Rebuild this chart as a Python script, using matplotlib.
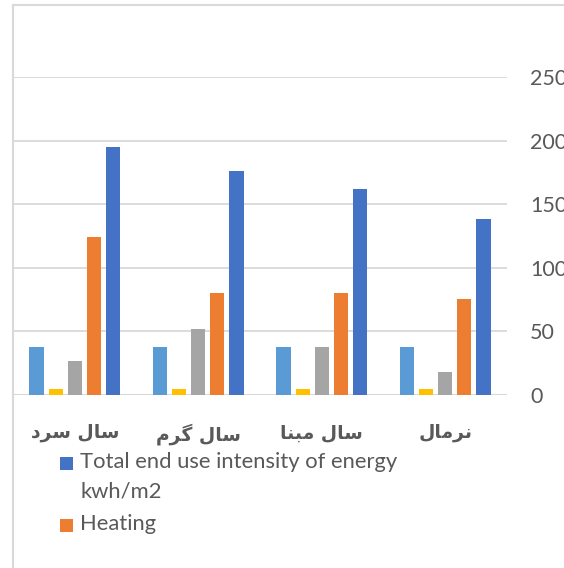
import matplotlib.pyplot as plt
import numpy as np
from matplotlib.lines import Line2D
from matplotlib.patches import Rectangle

# Persian category labels, left to right as laid out on the axis
categories = ['سال سرد', 'سال گرم', 'سال مبنا', 'نرمال']

# bar series, in drawing order left to right within each group
series_lightblue = [38, 38, 38, 38]
series_yellow = [4.5, 4.5, 4.5, 4.5]
series_gray = [26.5, 52, 38, 18]
heating = [124.5, 80, 80, 75.5]
total_eui = [195, 176, 162, 138]

y_ticks = [0, 50, 100, 150, 200, 250]

legend_labels = ['Total end use intensity of energy\nkwh/m2', 'Heating']

LIGHTBLUE = '#5B9BD5'
YELLOW = '#FFC000'
GRAY = '#A5A5A5'
ORANGE = '#ED7D31'
BLUE = '#4472C4'
TEXT = '#595959'
GRID = '#D9D9D9'

# matplotlib has no Arabic shaping, so map letters to their presentation forms
# (isolated, final, initial, medial) and lay them out right to left
FORMS = {
    'ا': ('\uFE8D', '\uFE8E'),
    'د': ('\uFEA9', '\uFEAA'),
    'ر': ('\uFEAD', '\uFEAE'),
    'ب': ('\uFE8F', '\uFE90', '\uFE91', '\uFE92'),
    'س': ('\uFEB1', '\uFEB2', '\uFEB3', '\uFEB4'),
    'ل': ('\uFEDD', '\uFEDE', '\uFEDF', '\uFEE0'),
    'م': ('\uFEE1', '\uFEE2', '\uFEE3', '\uFEE4'),
    'ن': ('\uFEE5', '\uFEE6', '\uFEE7', '\uFEE8'),
    'گ': ('\uFB92', '\uFB93', '\uFB94', '\uFB95'),
}


def shape_rtl(text):
    out = []
    for i, ch in enumerate(text):
        if ch not in FORMS:
            out.append(ch)
            continue
        prev = text[i - 1] if i > 0 else ''
        nxt = text[i + 1] if i + 1 < len(text) else ''
        joins_prev = prev in FORMS and len(FORMS[prev]) == 4
        joins_next = len(FORMS[ch]) == 4 and nxt in FORMS
        f = FORMS[ch]
        if joins_prev and joins_next:
            out.append(f[3])
        elif joins_prev:
            out.append(f[1])
        elif joins_next:
            out.append(f[2])
        else:
            out.append(f[0])
    return ''.join(reversed(out))


W, H = 564, 568
fig = plt.figure(figsize=(W / 100, H / 100), dpi=100)
ax = fig.add_axes([13 / W, (H - 395) / H, (507 - 13) / W, (395 - 77) / H])

series = [series_lightblue, series_yellow, series_gray, heating, total_eui]
colors = [LIGHTBLUE, YELLOW, GRAY, ORANGE, BLUE]

x = np.arange(len(categories))
bar_w = 0.117
step = 0.154
for k, (vals, c) in enumerate(zip(series, colors)):
    ax.bar(x + (k - 2) * step, vals, width=bar_w, color=c, zorder=3)

ax.set_xlim(-0.5, len(categories) - 0.5)
ax.set_ylim(0, 250)
ax.set_yticks(y_ticks)
ax.yaxis.tick_right()
ax.grid(axis='y', color=GRID, linewidth=1.3, zorder=0)
ax.tick_params(axis='y', length=0, pad=16.5, labelsize=15.5, labelcolor=TEXT)
for lbl in ax.get_yticklabels():
    lbl.set_fontfamily('Lato')
ax.set_xticks(x)
ax.set_xticklabels([shape_rtl(c) for c in categories], fontsize=13.5,
                   fontweight='bold', color=TEXT, family='DejaVu Sans')
ax.tick_params(axis='x', length=0, pad=20)
for s in ax.spines.values():
    s.set_visible(False)
ax.axhline(0, color=GRID, linewidth=1.5, zorder=2)

# chart area border, left and top edges
fig.add_artist(Line2D([12.5 / W, 12.5 / W], [0, 1 - 4.5 / H], color=GRID,
                      linewidth=1.5, transform=fig.transFigure))
fig.add_artist(Line2D([12.5 / W, 1], [1 - 4.5 / H, 1 - 4.5 / H], color=GRID,
                      linewidth=1.5, transform=fig.transFigure))

# legend entries
legend_rows = [463, 525]
for label, c, yc in zip(legend_labels, [BLUE, ORANGE], legend_rows):
    fig.add_artist(Rectangle((60 / W, 1 - (yc + 6.5) / H), 13 / W, 13 / H,
                             facecolor=c, edgecolor='none', transform=fig.transFigure))
    fig.text(80 / W, 1 - (yc - 11) / H, label, ha='left', va='top',
             fontsize=15.8, family='Lato', color=TEXT, linespacing=1.6)

fig.savefig('out.png', dpi=100)
